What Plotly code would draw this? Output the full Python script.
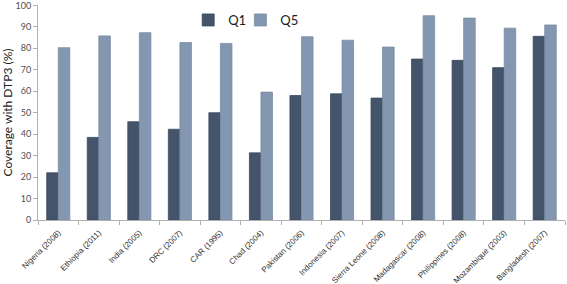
import plotly.graph_objects as go

categories = ["Nigeria (2008)", "Ethiopia (2011)", "India (2005)", "DRC (2007)", "CAR (1995)",
              "Chad (2004)", "Pakistan (2006)", "Indonesia (2007)", "Sierra Leone (2008)",
              "Madagascar (2008)", "Philippines (2008)", "Mozambique (2003)", "Bangladesh (2007)"]
q1 = [22, 38.5, 45.8, 42.3, 50, 31.3, 58, 58.8, 56.8, 75, 74.4, 71, 85.6]
q5 = [80.3, 85.8, 87.3, 82.7, 82.3, 59.6, 85.4, 83.8, 80.6, 95.2, 94.1, 89.4, 90.9]
y_ticks = [0, 10, 20, 30, 40, 50, 60, 70, 80, 90, 100]

fig = go.Figure()
fig.add_trace(go.Bar(x=categories, y=q1, name="Q1", legend="legend",
                     marker=dict(color="#44546a", line=dict(color="#3a4860", width=0.8))))
fig.add_trace(go.Bar(x=categories, y=q5, name="Q5", legend="legend2",
                     marker=dict(color="#8497b0", line=dict(color="#7a8ca6", width=0.8))))

legend_style = dict(orientation="h", y=1.0, xanchor="left", yanchor="top",
                    font=dict(size=13, color="#202020"), bgcolor="rgba(0,0,0,0)")

fig.update_layout(
    width=567, height=284,
    margin=dict(l=38, r=2, t=5, b=64, autoexpand=False),
    paper_bgcolor="white", plot_bgcolor="white",
    barmode="group", bargap=0.43, bargroupgap=0,
    font=dict(family="Lato, Liberation Sans, sans-serif", color="#404040"),
    legend=dict(x=0.285, **legend_style),
    legend2=dict(x=0.384, **legend_style),
    showlegend=True,
)
fig.update_yaxes(range=[0, 100.2], tickvals=y_ticks, showgrid=False, showline=True, linecolor="#b0b0b0",
                 ticks="outside", ticklen=4, tickcolor="#b0b0b0", tickfont=dict(size=9, color="#505050"),
                 ticklabeloverflow="allow",
                 title=dict(text="Coverage with DTP3 (%)", font=dict(size=12, color="#202020"), standoff=4),
                 zeroline=False, automargin=False)
fig.update_xaxes(showgrid=False, showline=True, linecolor="#b0b0b0", ticks="outside", ticklen=4,
                 tickcolor="#b0b0b0", tickson="boundaries", tickangle=-45, automargin=False,
                 ticklabelstandoff=4,
                 tickfont=dict(size=8, family="Liberation Sans, Arial, sans-serif", color="#303030"))

fig.write_html("out.html", config={"displayModeBar": False},
               post_script="document.body.style.margin='0';")
